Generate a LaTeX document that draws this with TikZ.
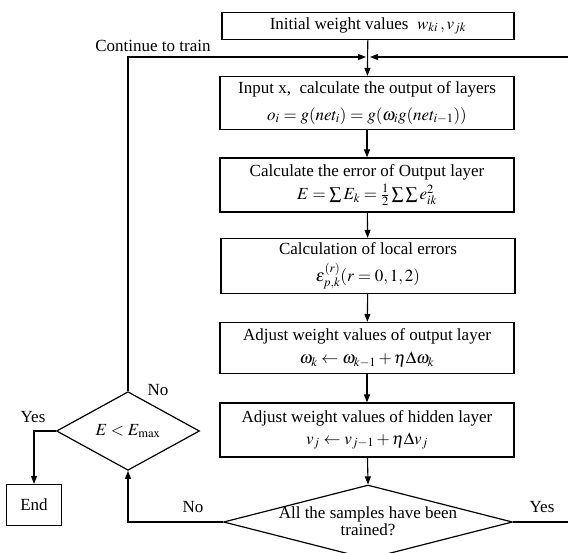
\documentclass[tikz,border=0pt]{standalone}
\usepackage{amsmath}
\usepackage{mathptmx}
\usepackage{fontspec}
\setmainfont{Liberation Serif}
\usetikzlibrary{arrows.meta,shapes.geometric,positioning}

\begin{document}
\begin{tikzpicture}[x=1pt,y=-1pt,
  font=\fontsize{17}{20}\selectfont,
  stepbox/.style={draw, line width=1.2pt, minimum width=294pt, inner sep=1pt, align=center},
  decide/.style={draw, line width=1.2pt, diamond, inner sep=0pt},
  flow/.style={line width=1.1pt, -{Triangle[length=8pt,width=6pt]}},
  note/.style={inner sep=1pt}]
\useasboundingbox (0,0) rectangle (568,552);
\node[stepbox, minimum width=292pt, minimum height=27pt] (init) at (368,26) {Initial weight values \ $w_{ki}\,,v_{jk}$};
\node[stepbox, minimum height=53pt] (input) at (367,103) {Input x,\ \ calculate the output of layers\\[7pt] $o_i=g(net_i)=g(\omega_i g(net_{i-1}))$};
\node[stepbox, minimum height=54pt] (error) at (367,185) {Calculate the error of Output layer\\[3pt] $E=\sum E_k=\frac{1}{2}\sum\sum e_{ik}^2$};
\node[stepbox, minimum height=55pt] (local) at (368,266) {Calculation of local errors\\[7pt] $\varepsilon_{p,k}^{(r)}(r=0,1,2)$};
\node[stepbox, minimum height=51pt] (adjout) at (367,348) {Adjust weight values of output layer\\[3pt] $\omega_k\leftarrow\omega_{k-1}+\eta\Delta\omega_k$};
\node[stepbox, minimum height=54pt] (adjhid) at (367,430) {Adjust weight values of hidden layer\\[2pt] $v_j\leftarrow v_{j-1}+\eta\Delta v_j$};
\node[decide, minimum width=289pt, minimum height=74pt] (samples) at (368,522) {};
\node[align=center, inner sep=0pt] (samplestext) at (368,521) {All the samples have been\\[-3pt]trained?};
\node[decide, minimum width=143pt, minimum height=54pt] (cond) at (128,431) {$E<E_{\max}$};
\node[draw, line width=1.2pt, minimum width=55pt, minimum height=41pt] (end) at (34,505) {End};
\coordinate (merge) at (368,57);
\coordinate (farright) at (574,57);
\coordinate (yesturn) at (34,431);
% main column
\draw[flow] (init) -- (input);
\draw[flow] (input) -- (error);
\draw[flow] (error) -- (local);
\draw[flow] (local) -- (adjout);
\draw[flow] (adjout) -- (adjhid);
\draw[flow] (adjhid) -- (samples.north);
% loops back
\draw[flow] (samples.west) -- (cond.south |- samples.west) -- (cond.south);
\draw[flow, shorten >=2pt] (cond.north) -- (cond.north |- merge) -- (merge);
\draw[flow, shorten >=2pt] (samples.east) -- (samples.east -| farright) -- (farright) -- (merge);
\draw[flow] (cond.west) -- (yesturn) -- (end.north);
% labels
\node[note] (notrain) at (153,46) {Continue to train};
\node[note] (nocond) at (158,390) {No};
\node[note] (yescond) at (33,417) {Yes};
\node[note] (nosamples) at (193,507) {No};
\node[note] (yessamples) at (542,507) {Yes};
\end{tikzpicture}
\end{document}
